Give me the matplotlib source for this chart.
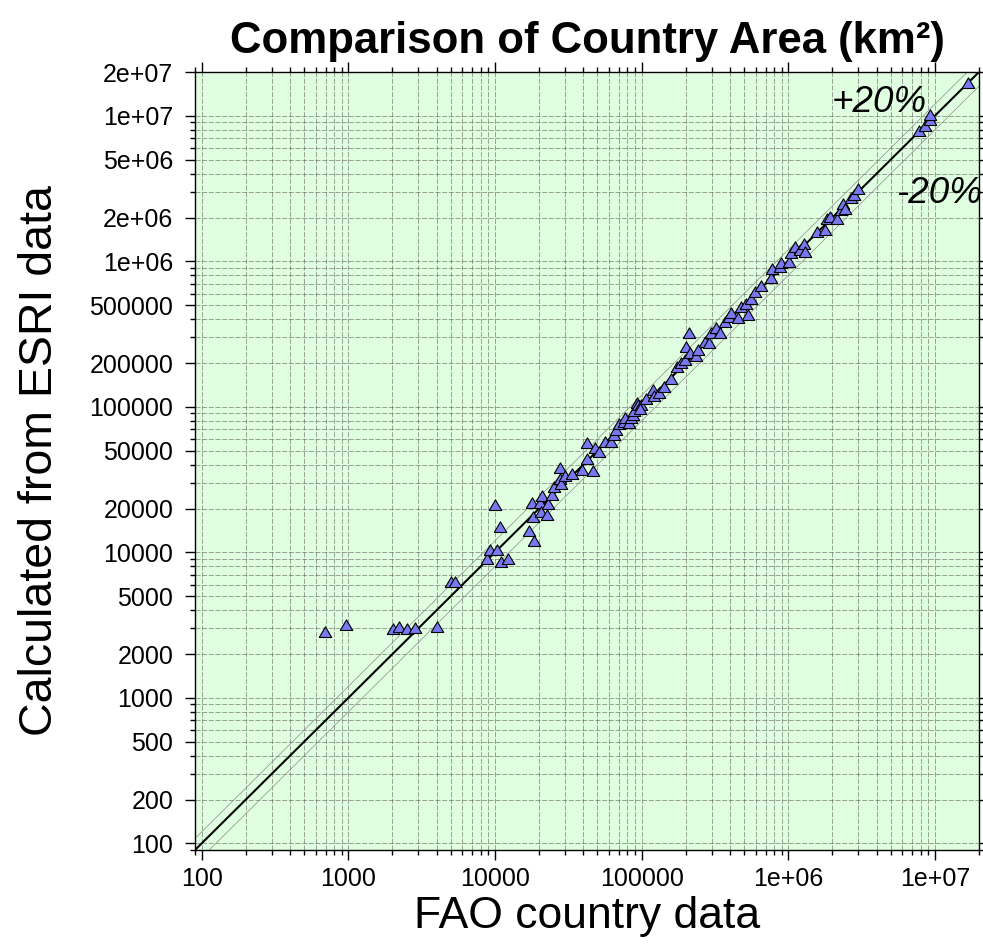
import matplotlib
matplotlib.use('Agg')
import matplotlib.pyplot as plt
import numpy as np
from matplotlib.ticker import FixedLocator, FixedFormatter, NullFormatter

plt.rcParams['font.family'] = ['Liberation Sans', 'DejaVu Sans']

# ---- data (km^2) ----
fao_area = [690, 960, 2020, 2230, 2500, 2840, 4030, 5040, 5320, 8890, 9220, 10290, 10020,
            10830, 10950, 12230, 17080, 18390, 18190, 17820, 20210, 20840, 20520, 22650,
            23010, 24510, 25290, 27650, 27960, 28400, 30240, 33760, 39490, 46630, 42450,
            42450, 48420, 51240, 56050, 62270, 64540, 66590, 70150, 75860, 76700, 82070,
            85200, 87370, 88750, 93020, 94510, 99690, 98130, 107800, 119600, 121500,
            131400, 142100, 157900, 174300, 184700, 196700, 202100, 211800, 215100,
            233800, 242300, 269200, 288000, 299100, 323600, 340700, 368600, 392500,
            409400, 454100, 473700, 518100, 531300, 560500, 590200, 655600, 767000,
            774300, 883500, 887600, 1011000, 1038000, 1105000, 1209000, 1279000, 1294000,
            1569000, 1771000, 1848000, 1936000, 2148000, 2276000, 2360000, 2450000,
            2692000, 2805000, 2987000, 7743000, 8509000, 9204000, 9305000, 16790000]
esri_area = [2840, 3150, 2965, 3080, 2950, 3040, 3060, 6250, 6300, 8950, 10320, 10430, 21240,
             14840, 8540, 9050, 13930, 12030, 17490, 21820, 21820, 24480, 18930, 18140,
             21580, 24870, 28090, 38090, 31870, 29450, 33420, 34490, 36920, 36340, 44120,
             56270, 52000, 49280, 57450, 57180, 64170, 69440, 75990, 79170, 83530, 77190,
             83530, 88000, 94170, 105900, 103000, 103000, 96270, 113300, 130600, 118800,
             124000, 137500, 154700, 186900, 201000, 209700, 258800, 319700, 235300,
             223400, 245700, 280000, 273000, 319700, 346000, 319700, 384000, 415600,
             438500, 405200, 482100, 507900, 426900, 547000, 616800, 674800, 762100,
             878500, 915200, 975000, 990600, 1142000, 1255000, 1192000, 1325000, 1160000,
             1591000, 1652000, 1945000, 2016000, 1966000, 2266000, 2491000, 2302000,
             2739000, 2840000, 3123000, 7804000, 8484000, 9389000, 10200000, 16840000]

xtick_values = [100, 1000, 10000, 100000, 1e6, 1e7]
xtick_labels = ['100', '1000', '10000', '100000', '1e+06', '1e+07']
ytick_values = [100, 200, 500, 1000, 2000, 5000, 10000, 20000, 50000, 100000, 200000,
                500000, 1e6, 2e6, 5e6, 1e7, 2e7]
ytick_labels = ['100', '200', '500', '1000', '2000', '5000', '10000', '20000', '50000',
                '100000', '200000', '500000', '1e+06', '2e+06', '5e+06', '1e+07', '2e+07']
axis_min, axis_max = 90, 2e7
band = 0.2

fig = plt.figure(figsize=(9.83, 9.47), dpi=100)
ax = fig.add_axes([0.19837, 0.10243, 0.79756, 0.82154])
ax.set_facecolor('#e0ffe0')
ax.set_xscale('log')
ax.set_yscale('log')
ax.set_xlim(axis_min, axis_max)
ax.set_ylim(axis_min, axis_max)

decades = [10.0 ** k for k in range(1, 8)]
x_minor = [m * d for d in decades for m in range(2, 10)]
y_minor = [m * d for d in decades for m in (3, 4, 6, 7, 8, 9)]

ax.xaxis.set_major_locator(FixedLocator(xtick_values))
ax.xaxis.set_major_formatter(FixedFormatter(xtick_labels))
ax.xaxis.set_minor_locator(FixedLocator(x_minor))
ax.xaxis.set_minor_formatter(NullFormatter())
ax.yaxis.set_major_locator(FixedLocator(ytick_values))
ax.yaxis.set_major_formatter(FixedFormatter(ytick_labels))
ax.yaxis.set_minor_locator(FixedLocator(y_minor))
ax.yaxis.set_minor_formatter(NullFormatter())

ax.tick_params(which='both', direction='out', top=True, right=True, width=1, colors='black')
ax.tick_params(which='major', length=7.2, labelsize=18)
ax.tick_params(which='minor', length=3.6)
ax.tick_params(axis='x', which='major', pad=5)
ax.tick_params(axis='y', which='major', pad=8.5)

ax.set_axisbelow(True)
ax.grid(True, which='both', color='0.3', alpha=0.6, lw=0.6, linestyle=(0, (6, 2)))

for s in ax.spines.values():
    s.set_linewidth(1.0)
    s.set_color('black')

ref = np.array([axis_min, axis_max])
ax.plot(ref, ref, color='black', lw=1.5, zorder=2)
ax.plot(ref, ref * (1 + band), color='0.55', lw=0.5, zorder=2)
ax.plot(ref, ref * (1 - band), color='0.55', lw=0.5, zorder=2)

tri = [(-1, -0.8), (1, -0.8), (0, 0.9), (-1, -0.8)]
ax.plot(fao_area, esri_area, linestyle='none', marker=tri, markersize=9,
        markerfacecolor='#7878f0', markeredgecolor='black', markeredgewidth=0.8, zorder=3)

ax.text(0.8125, 0.949, '+20%', transform=ax.transAxes, fontsize=26.5, style='italic',
        ha='left', va='baseline')
ax.text(0.894, 0.832, '-20%', transform=ax.transAxes, fontsize=26.5, style='italic',
        ha='left', va='baseline', clip_on=False)

ax.set_title('Comparison of Country Area (km²)', fontsize=31.5, fontweight='bold', pad=14)
ax.set_xlabel('FAO country data', fontsize=32, labelpad=4)
ax.set_ylabel('Calculated from ESRI data', fontsize=33.5, labelpad=20)

fig.savefig('out.png', dpi=100)
